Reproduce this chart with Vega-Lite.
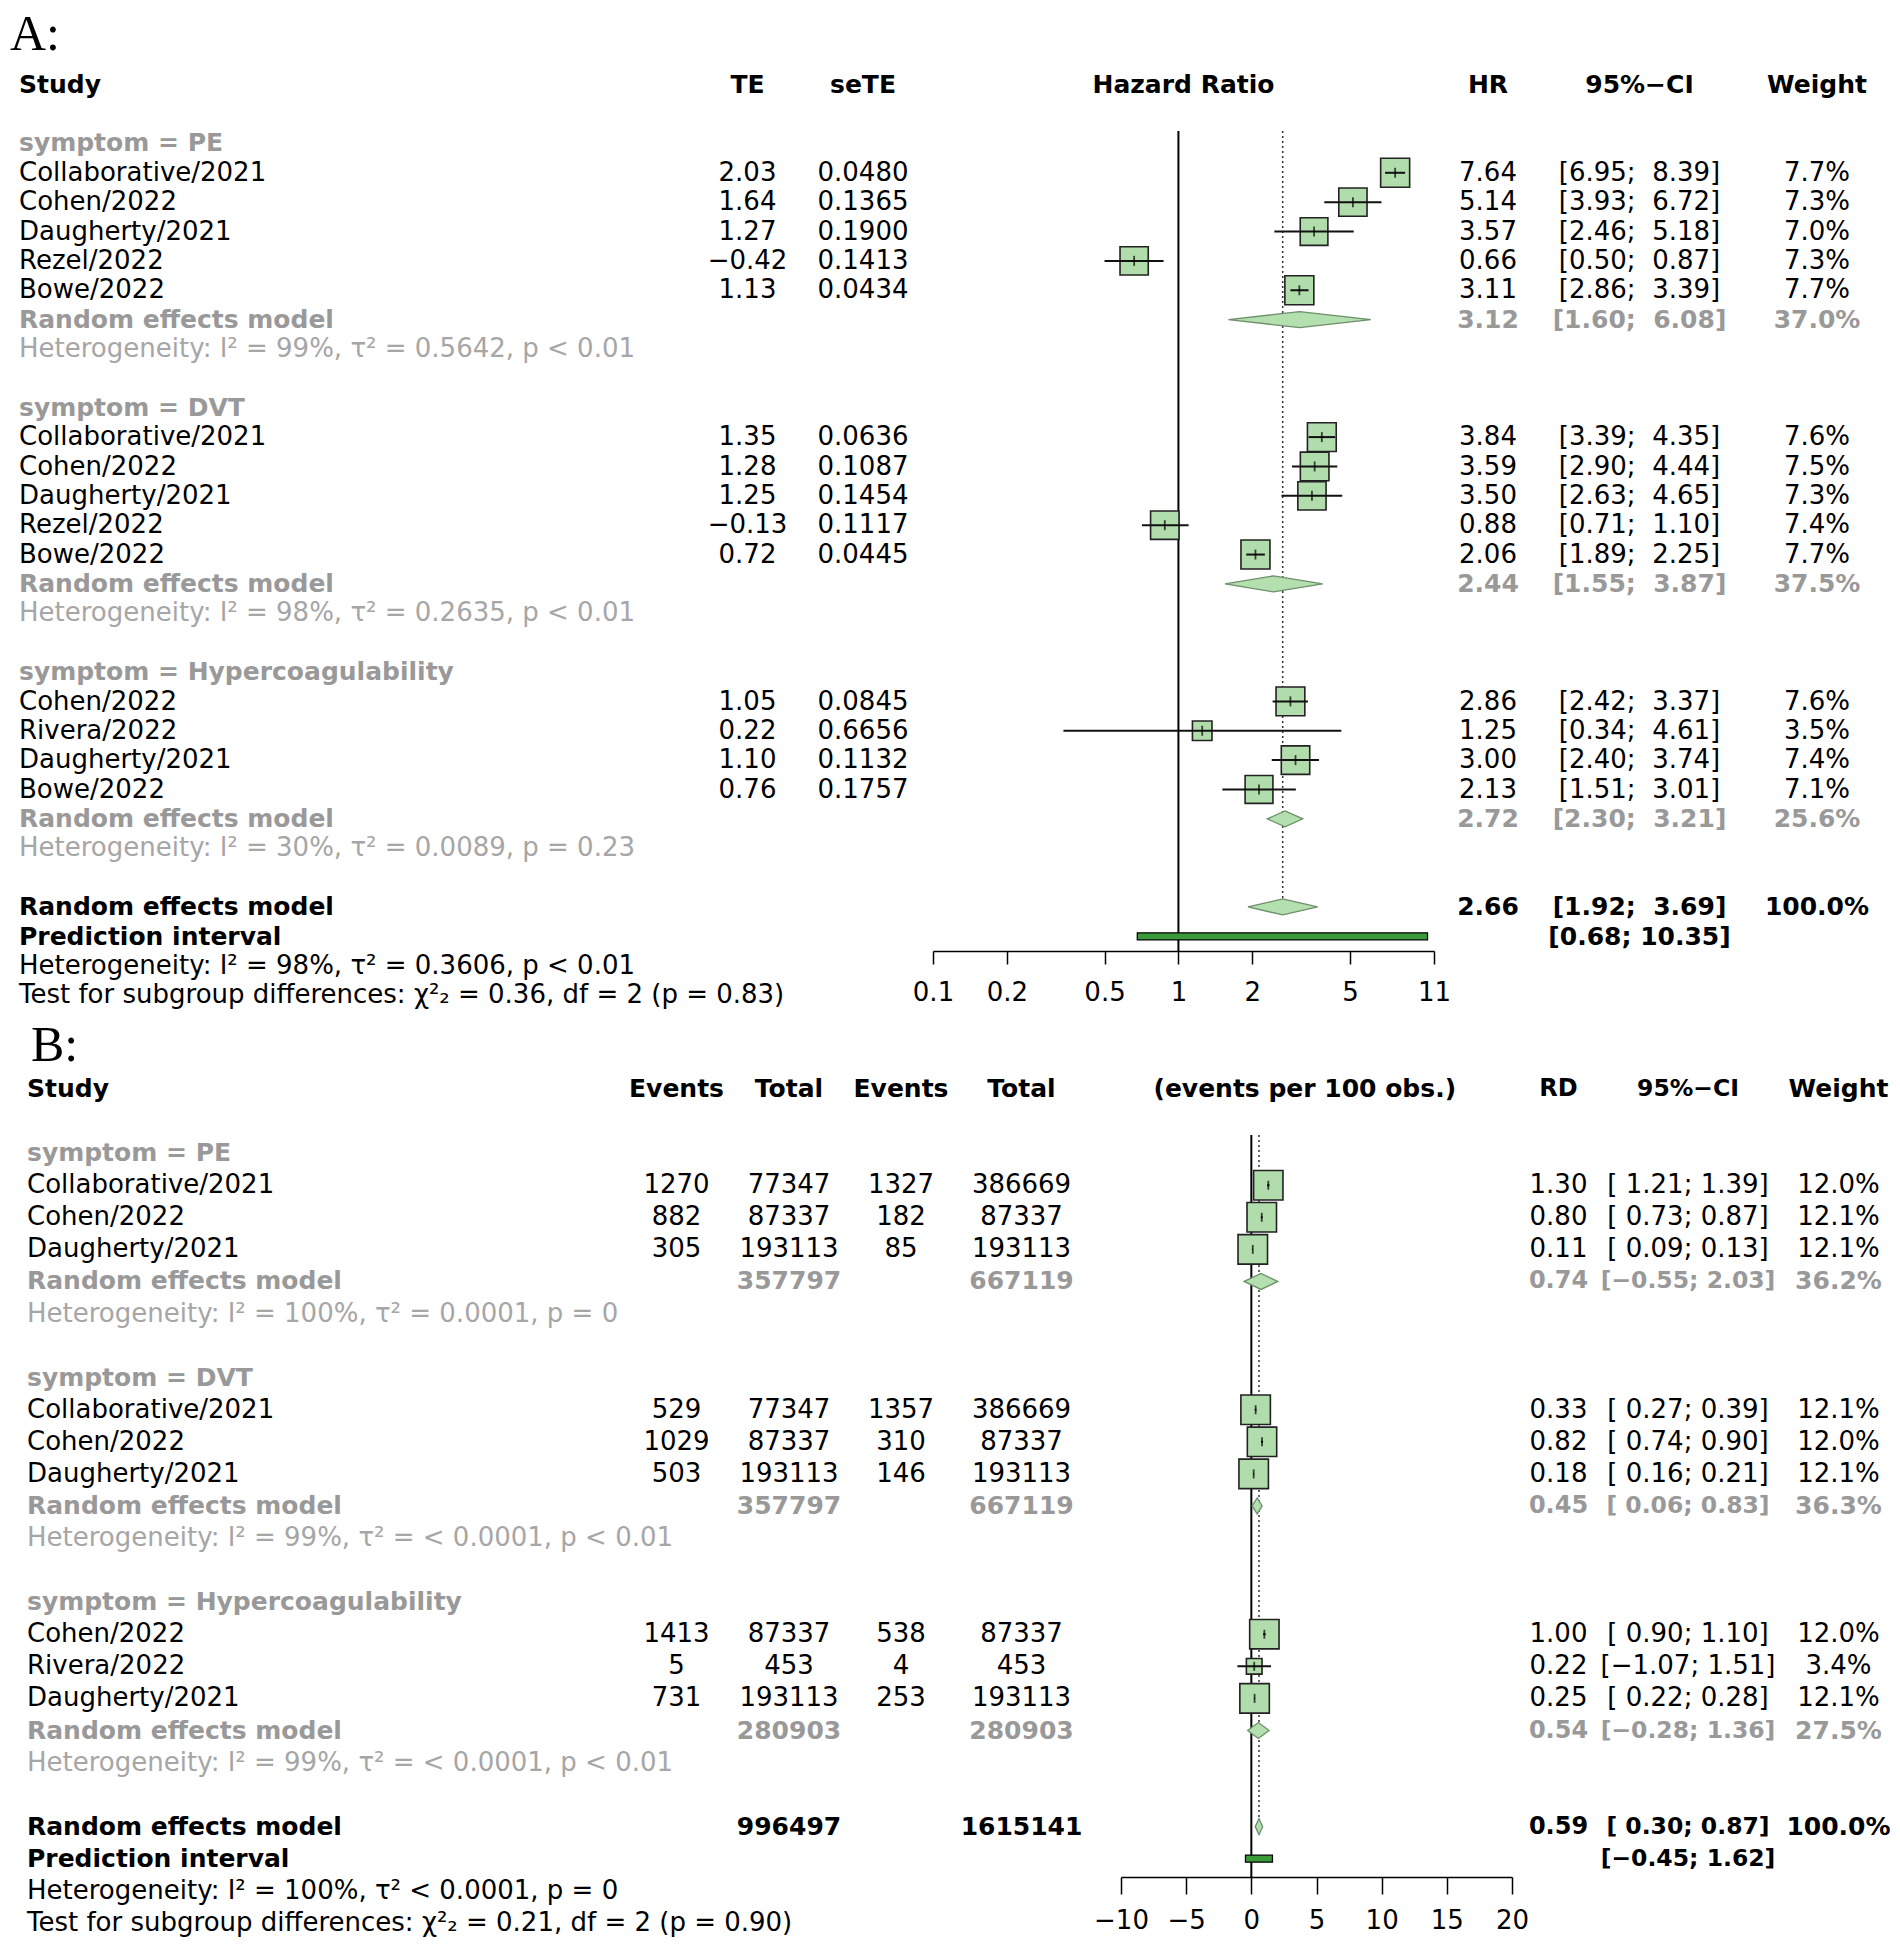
{
"$schema": "https://vega.github.io/schema/vega-lite/v6.json",
"background": "white",
"padding": {"left": 10, "top": 10, "right": 0, "bottom": 0},
"config": {"view": {"stroke": null}},
"datasets": {
"A": [
{"row":0,"kind":"header","study":"Study","te":"TE","sete":"seTE","fh":"Hazard Ratio","hr":"HR","ci":"95%−CI","w":"Weight"},
{"row":2,"kind":"label","study":"symptom = PE"},
{"row":3,"kind":"study","study":"Collaborative/2021","te":"2.03","sete":"0.0480","hr":"7.64","ci":"[6.95;\u00a0 8.39]","w":"7.7%","est":7.64,"lo":6.95,"hi":8.39,"wt":7.7},
{"row":4,"kind":"study","study":"Cohen/2022","te":"1.64","sete":"0.1365","hr":"5.14","ci":"[3.93;\u00a0 6.72]","w":"7.3%","est":5.14,"lo":3.93,"hi":6.72,"wt":7.3},
{"row":5,"kind":"study","study":"Daugherty/2021","te":"1.27","sete":"0.1900","hr":"3.57","ci":"[2.46;\u00a0 5.18]","w":"7.0%","est":3.57,"lo":2.46,"hi":5.18,"wt":7.0},
{"row":6,"kind":"study","study":"Rezel/2022","te":"−0.42","sete":"0.1413","hr":"0.66","ci":"[0.50;\u00a0 0.87]","w":"7.3%","est":0.66,"lo":0.50,"hi":0.87,"wt":7.3},
{"row":7,"kind":"study","study":"Bowe/2022","te":"1.13","sete":"0.0434","hr":"3.11","ci":"[2.86;\u00a0 3.39]","w":"7.7%","est":3.11,"lo":2.86,"hi":3.39,"wt":7.7},
{"row":8,"kind":"sub","study":"Random effects model","hr":"3.12","ci":"[1.60;\u00a0 6.08]","w":"37.0%","est":3.12,"lo":1.60,"hi":6.08},
{"row":9,"kind":"het","study":"Heterogeneity: I² = 99%, τ² = 0.5642, p < 0.01"},
{"row":11,"kind":"label","study":"symptom = DVT"},
{"row":12,"kind":"study","study":"Collaborative/2021","te":"1.35","sete":"0.0636","hr":"3.84","ci":"[3.39;\u00a0 4.35]","w":"7.6%","est":3.84,"lo":3.39,"hi":4.35,"wt":7.6},
{"row":13,"kind":"study","study":"Cohen/2022","te":"1.28","sete":"0.1087","hr":"3.59","ci":"[2.90;\u00a0 4.44]","w":"7.5%","est":3.59,"lo":2.90,"hi":4.44,"wt":7.5},
{"row":14,"kind":"study","study":"Daugherty/2021","te":"1.25","sete":"0.1454","hr":"3.50","ci":"[2.63;\u00a0 4.65]","w":"7.3%","est":3.50,"lo":2.63,"hi":4.65,"wt":7.3},
{"row":15,"kind":"study","study":"Rezel/2022","te":"−0.13","sete":"0.1117","hr":"0.88","ci":"[0.71;\u00a0 1.10]","w":"7.4%","est":0.88,"lo":0.71,"hi":1.10,"wt":7.4},
{"row":16,"kind":"study","study":"Bowe/2022","te":"0.72","sete":"0.0445","hr":"2.06","ci":"[1.89;\u00a0 2.25]","w":"7.7%","est":2.06,"lo":1.89,"hi":2.25,"wt":7.7},
{"row":17,"kind":"sub","study":"Random effects model","hr":"2.44","ci":"[1.55;\u00a0 3.87]","w":"37.5%","est":2.44,"lo":1.55,"hi":3.87},
{"row":18,"kind":"het","study":"Heterogeneity: I² = 98%, τ² = 0.2635, p < 0.01"},
{"row":20,"kind":"label","study":"symptom = Hypercoagulability"},
{"row":21,"kind":"study","study":"Cohen/2022","te":"1.05","sete":"0.0845","hr":"2.86","ci":"[2.42;\u00a0 3.37]","w":"7.6%","est":2.86,"lo":2.42,"hi":3.37,"wt":7.6},
{"row":22,"kind":"study","study":"Rivera/2022","te":"0.22","sete":"0.6656","hr":"1.25","ci":"[0.34;\u00a0 4.61]","w":"3.5%","est":1.25,"lo":0.34,"hi":4.61,"wt":3.5},
{"row":23,"kind":"study","study":"Daugherty/2021","te":"1.10","sete":"0.1132","hr":"3.00","ci":"[2.40;\u00a0 3.74]","w":"7.4%","est":3.00,"lo":2.40,"hi":3.74,"wt":7.4},
{"row":24,"kind":"study","study":"Bowe/2022","te":"0.76","sete":"0.1757","hr":"2.13","ci":"[1.51;\u00a0 3.01]","w":"7.1%","est":2.13,"lo":1.51,"hi":3.01,"wt":7.1},
{"row":25,"kind":"sub","study":"Random effects model","hr":"2.72","ci":"[2.30;\u00a0 3.21]","w":"25.6%","est":2.72,"lo":2.30,"hi":3.21},
{"row":26,"kind":"het","study":"Heterogeneity: I² = 30%, τ² = 0.0089, p = 0.23"},
{"row":28,"kind":"overall","study":"Random effects model","hr":"2.66","ci":"[1.92;\u00a0 3.69]","w":"100.0%","est":2.66,"lo":1.92,"hi":3.69},
{"row":29,"kind":"pi","study":"Prediction interval","ci":"[0.68; 10.35]","lo":0.68,"hi":10.35},
{"row":30,"kind":"ohet","study":"Heterogeneity: I² = 98%, τ² = 0.3606, p < 0.01"},
{"row":31,"kind":"test","study":"Test for subgroup differences: χ²₂ = 0.36, df = 2 (p = 0.83)"}
],
"B": [
{"row":0,"kind":"header","study":"Study","e1":"Events","t1":"Total","e2":"Events","t2":"Total","fh":"(events per 100 obs.)","rd":"RD","ci":"95%−CI","w":"Weight"},
{"row":2,"kind":"label","study":"symptom = PE"},
{"row":3,"kind":"study","study":"Collaborative/2021","e1":"1270","t1":"77347","e2":"1327","t2":"386669","rd":"1.30","ci":"[\u00a01.21; 1.39]","w":"12.0%","est":1.30,"lo":1.21,"hi":1.39,"wt":12.0},
{"row":4,"kind":"study","study":"Cohen/2022","e1":"882","t1":"87337","e2":"182","t2":"87337","rd":"0.80","ci":"[\u00a00.73; 0.87]","w":"12.1%","est":0.80,"lo":0.73,"hi":0.87,"wt":12.1},
{"row":5,"kind":"study","study":"Daugherty/2021","e1":"305","t1":"193113","e2":"85","t2":"193113","rd":"0.11","ci":"[\u00a00.09; 0.13]","w":"12.1%","est":0.11,"lo":0.09,"hi":0.13,"wt":12.1},
{"row":6,"kind":"sub","study":"Random effects model","t1":"357797","t2":"667119","rd":"0.74","ci":"[−0.55; 2.03]","w":"36.2%","est":0.74,"lo":-0.55,"hi":2.03},
{"row":7,"kind":"het","study":"Heterogeneity: I² = 100%, τ² = 0.0001, p = 0"},
{"row":9,"kind":"label","study":"symptom = DVT"},
{"row":10,"kind":"study","study":"Collaborative/2021","e1":"529","t1":"77347","e2":"1357","t2":"386669","rd":"0.33","ci":"[\u00a00.27; 0.39]","w":"12.1%","est":0.33,"lo":0.27,"hi":0.39,"wt":12.1},
{"row":11,"kind":"study","study":"Cohen/2022","e1":"1029","t1":"87337","e2":"310","t2":"87337","rd":"0.82","ci":"[\u00a00.74; 0.90]","w":"12.0%","est":0.82,"lo":0.74,"hi":0.90,"wt":12.0},
{"row":12,"kind":"study","study":"Daugherty/2021","e1":"503","t1":"193113","e2":"146","t2":"193113","rd":"0.18","ci":"[\u00a00.16; 0.21]","w":"12.1%","est":0.18,"lo":0.16,"hi":0.21,"wt":12.1},
{"row":13,"kind":"sub","study":"Random effects model","t1":"357797","t2":"667119","rd":"0.45","ci":"[\u00a00.06; 0.83]","w":"36.3%","est":0.45,"lo":0.06,"hi":0.83},
{"row":14,"kind":"het","study":"Heterogeneity: I² = 99%, τ² = < 0.0001, p < 0.01"},
{"row":16,"kind":"label","study":"symptom = Hypercoagulability"},
{"row":17,"kind":"study","study":"Cohen/2022","e1":"1413","t1":"87337","e2":"538","t2":"87337","rd":"1.00","ci":"[\u00a00.90; 1.10]","w":"12.0%","est":1.00,"lo":0.90,"hi":1.10,"wt":12.0},
{"row":18,"kind":"study","study":"Rivera/2022","e1":"5","t1":"453","e2":"4","t2":"453","rd":"0.22","ci":"[−1.07; 1.51]","w":"3.4%","est":0.22,"lo":-1.07,"hi":1.51,"wt":3.4},
{"row":19,"kind":"study","study":"Daugherty/2021","e1":"731","t1":"193113","e2":"253","t2":"193113","rd":"0.25","ci":"[\u00a00.22; 0.28]","w":"12.1%","est":0.25,"lo":0.22,"hi":0.28,"wt":12.1},
{"row":20,"kind":"sub","study":"Random effects model","t1":"280903","t2":"280903","rd":"0.54","ci":"[−0.28; 1.36]","w":"27.5%","est":0.54,"lo":-0.28,"hi":1.36},
{"row":21,"kind":"het","study":"Heterogeneity: I² = 99%, τ² = < 0.0001, p < 0.01"},
{"row":23,"kind":"overall","study":"Random effects model","t1":"996497","t2":"1615141","rd":"0.59","ci":"[\u00a00.30; 0.87]","w":"100.0%","est":0.59,"lo":0.30,"hi":0.87},
{"row":24,"kind":"pi","study":"Prediction interval","ci":"[−0.45; 1.62]","lo":-0.45,"hi":1.62},
{"row":25,"kind":"ohet","study":"Heterogeneity: I² = 100%, τ² < 0.0001, p = 0"},
{"row":26,"kind":"test","study":"Test for subgroup differences: χ²₂ = 0.21, df = 2 (p = 0.90)"}
]
},
"spacing": 11,
"vconcat": [
{
"title": {"text": "A:", "anchor": "start", "font": "Liberation Serif", "fontSize": 50, "fontWeight": "normal", "color": "black", "offset": 10},
"spacing": 0,
"bounds": "flush",
"resolve": {"scale": {"x": "independent", "y": "independent", "size": "independent"}},
"hconcat": [
{"width": 692, "height": 940, "data": {"name": "A"}, "transform": [{"filter": "isValid(datum.study)"}],
 "encoding": {"y": {"field":"row","type":"quantitative","scale":{"domain":[-0.5,31.5],"reverse":true,"nice":false,"zero":false},"axis":null},
  "x": {"value": 0}, "text": {"field": "study"},
  "color": {"field":"kind","type":"nominal","scale":{"domain":["header","label","study","sub","het","overall","pi","ohet","test"],"range":["#000000","#999999","#000000","#999999","#a6a6a6","#000000","#000000","#000000","#000000"]},"legend":null}},
 "layer": [
  {"transform": [{"filter": {"field":"kind","oneOf":["header","label","sub","overall","pi"]}}], "mark": {"type":"text","font":"DejaVu Sans","fontSize":25,"fontWeight":"bold","align":"left","baseline":"middle","dx":9}},
  {"transform": [{"filter": {"field":"kind","oneOf":["study","het","ohet","test"]}}], "mark": {"type":"text","font":"DejaVu Sans","fontSize":26,"align":"left","baseline":"middle","dx":9}}
 ]},
{"width": 91, "height": 940, "data": {"name": "A"}, "transform": [{"filter": "isValid(datum.te)"}],
 "encoding": {"y": {"field":"row","type":"quantitative","scale":{"domain":[-0.5,31.5],"reverse":true,"nice":false,"zero":false},"axis":null},
  "x": {"datum": "c", "type": "nominal", "scale": {"type": "point", "padding": 0.5}, "axis": null}, "text": {"field": "te"},
  "color": {"field":"kind","type":"nominal","scale":{"domain":["header","label","study","sub","het","overall","pi","ohet","test"],"range":["#000000","#999999","#000000","#999999","#a6a6a6","#000000","#000000","#000000","#000000"]},"legend":null}},
 "layer": [
  {"transform": [{"filter": {"field":"kind","oneOf":["header","label","sub","overall","pi"]}}], "mark": {"type":"text","font":"DejaVu Sans","fontSize":25,"fontWeight":"bold","align":"center","baseline":"middle"}},
  {"transform": [{"filter": {"field":"kind","oneOf":["study","het","ohet","test"]}}], "mark": {"type":"text","font":"DejaVu Sans","fontSize":26,"align":"center","baseline":"middle"}}
 ]},
{"width": 140, "height": 940, "data": {"name": "A"}, "transform": [{"filter": "isValid(datum.sete)"}],
 "encoding": {"y": {"field":"row","type":"quantitative","scale":{"domain":[-0.5,31.5],"reverse":true,"nice":false,"zero":false},"axis":null},
  "x": {"datum": "c", "type": "nominal", "scale": {"type": "point", "padding": 0.5}, "axis": null}, "text": {"field": "sete"},
  "color": {"field":"kind","type":"nominal","scale":{"domain":["header","label","study","sub","het","overall","pi","ohet","test"],"range":["#000000","#999999","#000000","#999999","#a6a6a6","#000000","#000000","#000000","#000000"]},"legend":null}},
 "layer": [
  {"transform": [{"filter": {"field":"kind","oneOf":["header","label","sub","overall","pi"]}}], "mark": {"type":"text","font":"DejaVu Sans","fontSize":25,"fontWeight":"bold","align":"center","baseline":"middle"}},
  {"transform": [{"filter": {"field":"kind","oneOf":["study","het","ohet","test"]}}], "mark": {"type":"text","font":"DejaVu Sans","fontSize":26,"align":"center","baseline":"middle"}}
 ]},
{"width": 501, "height": 881, "data": {"name": "A"},
 "encoding": {"y": {"field":"row","type":"quantitative","scale":{"domain":[-0.5,29.5],"reverse":true,"nice":false,"zero":false,"padding":0},"axis":null}},
 "layer": [
  {"transform": [{"filter": "datum.kind == 'header'"}], "mark": {"type":"rule","stroke":"black","strokeWidth":2},
   "encoding": {"x": {"datum": 1, "type":"quantitative", "scale": {"type":"log","domain":[0.1,11],"nice":false,"padding":0},
     "axis": {"values":[0.1,0.2,0.5,1,2,5,11],"format":"~g","title":null,"grid":false,"domainColor":"black","domainWidth":1.5,"tickColor":"black","tickWidth":1.5,"tickSize":13,"labelFont":"DejaVu Sans","labelFontSize":26,"labelColor":"black","labelPadding":15,"labelFlush":false,"labelOverlap":false}},
    "y": {"datum": 1.58}, "y2": {"datum": 29.5}}},
  {"transform": [{"filter": "datum.kind == 'overall'"}], "mark": {"type":"rule","stroke":"#333333","strokeWidth":1.5,"strokeDash":[2,3]},
   "encoding": {"x": {"field":"est","type":"quantitative"}, "y": {"datum": 1.58}, "y2": {"datum": 27.72}}},
  {"transform": [{"filter": {"field":"kind","oneOf":["sub","overall"]}}, {"fold": ["lo","est","hi"]}],
   "mark": {"type":"area","orient":"vertical","fill":"#b4dfae","stroke":"#6d8f6b","strokeWidth":1.3,"opacity":1,
    "yOffset": {"expr": "datum.key == 'est' ? -8 : 0"}, "y2Offset": {"expr": "datum.key == 'est' ? 8 : 0"}},
   "encoding": {"x": {"field":"value","type":"quantitative"}, "y2": {"field":"row"}, "detail": {"field":"row","type":"nominal"}}},
  {"transform": [{"filter": "datum.kind == 'pi'"}], "mark": {"type":"bar","size":7,"fill":"#3a9a3a","stroke":"black","strokeWidth":1.3},
   "encoding": {"x": {"field":"lo","type":"quantitative"}, "x2": {"field":"hi"}}},
  {"transform": [{"filter": "datum.kind == 'study'"}], "mark": {"type":"point","shape":"square","filled":true,"fill":"#b1dcab","stroke":"#222222","strokeWidth":1.6,"opacity":1},
   "encoding": {"x": {"field":"est","type":"quantitative"}, "size": {"field":"wt","type":"quantitative","scale":{"domain":[0,7.7],"range":[0,841]},"legend":null}}},
  {"transform": [{"filter": "datum.kind == 'study'"}], "mark": {"type":"rule","stroke":"#111111","strokeWidth":2},
   "encoding": {"x": {"field":"lo","type":"quantitative"}, "x2": {"field":"hi"}}},
  {"transform": [{"filter": "datum.kind == 'study'"}], "mark": {"type":"tick","orient":"vertical","size":10,"thickness":1.8,"color":"black"},
   "encoding": {"x": {"field":"est","type":"quantitative"}}},
  {"transform": [{"filter": "isValid(datum.fh)"}], "mark": {"type":"text","font":"DejaVu Sans","fontSize":25,"fontWeight":"bold","align":"center","baseline":"middle","color":"black"},
   "encoding": {"x": {"datum": 1.0488, "type": "quantitative"}, "text": {"field":"fh"}}}
 ]},
{"width": 108, "height": 940, "data": {"name": "A"}, "transform": [{"filter": "isValid(datum.hr)"}],
 "encoding": {"y": {"field":"row","type":"quantitative","scale":{"domain":[-0.5,31.5],"reverse":true,"nice":false,"zero":false},"axis":null},
  "x": {"datum": "c", "type": "nominal", "scale": {"type": "point", "padding": 0.5}, "axis": null}, "text": {"field": "hr"},
  "color": {"field":"kind","type":"nominal","scale":{"domain":["header","label","study","sub","het","overall","pi","ohet","test"],"range":["#000000","#999999","#000000","#999999","#a6a6a6","#000000","#000000","#000000","#000000"]},"legend":null}},
 "layer": [
  {"transform": [{"filter": {"field":"kind","oneOf":["header","label","sub","overall","pi"]}}], "mark": {"type":"text","font":"DejaVu Sans","fontSize":25,"fontWeight":"bold","align":"center","baseline":"middle"}},
  {"transform": [{"filter": {"field":"kind","oneOf":["study","het","ohet","test"]}}], "mark": {"type":"text","font":"DejaVu Sans","fontSize":26,"align":"center","baseline":"middle"}}
 ]},
{"width": 195, "height": 940, "data": {"name": "A"}, "transform": [{"filter": "isValid(datum.ci)"}],
 "encoding": {"y": {"field":"row","type":"quantitative","scale":{"domain":[-0.5,31.5],"reverse":true,"nice":false,"zero":false},"axis":null},
  "x": {"datum": "c", "type": "nominal", "scale": {"type": "point", "padding": 0.5}, "axis": null}, "text": {"field": "ci"},
  "color": {"field":"kind","type":"nominal","scale":{"domain":["header","label","study","sub","het","overall","pi","ohet","test"],"range":["#000000","#999999","#000000","#999999","#a6a6a6","#000000","#000000","#000000","#000000"]},"legend":null}},
 "layer": [
  {"transform": [{"filter": {"field":"kind","oneOf":["header","label","sub","overall","pi"]}}], "mark": {"type":"text","font":"DejaVu Sans","fontSize":25,"fontWeight":"bold","align":"center","baseline":"middle"}},
  {"transform": [{"filter": {"field":"kind","oneOf":["study","het","ohet","test"]}}], "mark": {"type":"text","font":"DejaVu Sans","fontSize":26,"align":"center","baseline":"middle"}}
 ]},
{"width": 160, "height": 940, "data": {"name": "A"}, "transform": [{"filter": "isValid(datum.w)"}],
 "encoding": {"y": {"field":"row","type":"quantitative","scale":{"domain":[-0.5,31.5],"reverse":true,"nice":false,"zero":false},"axis":null},
  "x": {"datum": "c", "type": "nominal", "scale": {"type": "point", "padding": 0.5}, "axis": null}, "text": {"field": "w"},
  "color": {"field":"kind","type":"nominal","scale":{"domain":["header","label","study","sub","het","overall","pi","ohet","test"],"range":["#000000","#999999","#000000","#999999","#a6a6a6","#000000","#000000","#000000","#000000"]},"legend":null}},
 "layer": [
  {"transform": [{"filter": {"field":"kind","oneOf":["header","label","sub","overall","pi"]}}], "mark": {"type":"text","font":"DejaVu Sans","fontSize":25,"fontWeight":"bold","align":"center","baseline":"middle"}},
  {"transform": [{"filter": {"field":"kind","oneOf":["study","het","ohet","test"]}}], "mark": {"type":"text","font":"DejaVu Sans","fontSize":26,"align":"center","baseline":"middle"}}
 ]}
]
},
{
"title": {"text": "B:", "anchor": "start", "font": "Liberation Serif", "fontSize": 50, "fontWeight": "normal", "color": "black", "offset": 2, "dx": 21},
"spacing": 0,
"bounds": "flush",
"resolve": {"scale": {"x": "independent", "y": "independent", "size": "independent"}},
"hconcat": [
{"width": 645, "height": 866, "data": {"name": "B"}, "transform": [{"filter": "isValid(datum.study)"}],
 "encoding": {"y": {"field":"row","type":"quantitative","scale":{"domain":[-0.5,26.5],"reverse":true,"nice":false,"zero":false},"axis":null},
  "x": {"value": 0}, "text": {"field": "study"},
  "color": {"field":"kind","type":"nominal","scale":{"domain":["header","label","study","sub","het","overall","pi","ohet","test"],"range":["#000000","#999999","#000000","#999999","#a6a6a6","#000000","#000000","#000000","#000000"]},"legend":null}},
 "layer": [
  {"transform": [{"filter": {"field":"kind","oneOf":["header","label","sub","overall","pi"]}}], "mark": {"type":"text","font":"DejaVu Sans","fontSize":25,"fontWeight":"bold","align":"left","baseline":"middle","dx":17}},
  {"transform": [{"filter": {"field":"kind","oneOf":["study","het","ohet","test"]}}], "mark": {"type":"text","font":"DejaVu Sans","fontSize":26,"align":"left","baseline":"middle","dx":17}}
 ]},
{"width": 43, "height": 866, "data": {"name": "B"}, "transform": [{"filter": "isValid(datum.e1)"}],
 "encoding": {"y": {"field":"row","type":"quantitative","scale":{"domain":[-0.5,26.5],"reverse":true,"nice":false,"zero":false},"axis":null},
  "x": {"datum": "c", "type": "nominal", "scale": {"type": "point", "padding": 0.5}, "axis": null}, "text": {"field": "e1"},
  "color": {"field":"kind","type":"nominal","scale":{"domain":["header","label","study","sub","het","overall","pi","ohet","test"],"range":["#000000","#999999","#000000","#999999","#a6a6a6","#000000","#000000","#000000","#000000"]},"legend":null}},
 "layer": [
  {"transform": [{"filter": {"field":"kind","oneOf":["header","label","sub","overall","pi"]}}], "mark": {"type":"text","font":"DejaVu Sans","fontSize":25,"fontWeight":"bold","align":"center","baseline":"middle"}},
  {"transform": [{"filter": {"field":"kind","oneOf":["study","het","ohet","test"]}}], "mark": {"type":"text","font":"DejaVu Sans","fontSize":26,"align":"center","baseline":"middle"}}
 ]},
{"width": 182, "height": 866, "data": {"name": "B"}, "transform": [{"filter": "isValid(datum.t1)"}],
 "encoding": {"y": {"field":"row","type":"quantitative","scale":{"domain":[-0.5,26.5],"reverse":true,"nice":false,"zero":false},"axis":null},
  "x": {"datum": "c", "type": "nominal", "scale": {"type": "point", "padding": 0.5}, "axis": null}, "text": {"field": "t1"},
  "color": {"field":"kind","type":"nominal","scale":{"domain":["header","label","study","sub","het","overall","pi","ohet","test"],"range":["#000000","#999999","#000000","#999999","#a6a6a6","#000000","#000000","#000000","#000000"]},"legend":null}},
 "layer": [
  {"transform": [{"filter": {"field":"kind","oneOf":["header","label","sub","overall","pi"]}}], "mark": {"type":"text","font":"DejaVu Sans","fontSize":25,"fontWeight":"bold","align":"center","baseline":"middle"}},
  {"transform": [{"filter": {"field":"kind","oneOf":["study","het","ohet","test"]}}], "mark": {"type":"text","font":"DejaVu Sans","fontSize":26,"align":"center","baseline":"middle"}}
 ]},
{"width": 42, "height": 866, "data": {"name": "B"}, "transform": [{"filter": "isValid(datum.e2)"}],
 "encoding": {"y": {"field":"row","type":"quantitative","scale":{"domain":[-0.5,26.5],"reverse":true,"nice":false,"zero":false},"axis":null},
  "x": {"datum": "c", "type": "nominal", "scale": {"type": "point", "padding": 0.5}, "axis": null}, "text": {"field": "e2"},
  "color": {"field":"kind","type":"nominal","scale":{"domain":["header","label","study","sub","het","overall","pi","ohet","test"],"range":["#000000","#999999","#000000","#999999","#a6a6a6","#000000","#000000","#000000","#000000"]},"legend":null}},
 "layer": [
  {"transform": [{"filter": {"field":"kind","oneOf":["header","label","sub","overall","pi"]}}], "mark": {"type":"text","font":"DejaVu Sans","fontSize":25,"fontWeight":"bold","align":"center","baseline":"middle"}},
  {"transform": [{"filter": {"field":"kind","oneOf":["study","het","ohet","test"]}}], "mark": {"type":"text","font":"DejaVu Sans","fontSize":26,"align":"center","baseline":"middle"}}
 ]},
{"width": 199, "height": 866, "data": {"name": "B"}, "transform": [{"filter": "isValid(datum.t2)"}],
 "encoding": {"y": {"field":"row","type":"quantitative","scale":{"domain":[-0.5,26.5],"reverse":true,"nice":false,"zero":false},"axis":null},
  "x": {"datum": "c", "type": "nominal", "scale": {"type": "point", "padding": 0.5}, "axis": null}, "text": {"field": "t2"},
  "color": {"field":"kind","type":"nominal","scale":{"domain":["header","label","study","sub","het","overall","pi","ohet","test"],"range":["#000000","#999999","#000000","#999999","#a6a6a6","#000000","#000000","#000000","#000000"]},"legend":null}},
 "layer": [
  {"transform": [{"filter": {"field":"kind","oneOf":["header","label","sub","overall","pi"]}}], "mark": {"type":"text","font":"DejaVu Sans","fontSize":25,"fontWeight":"bold","align":"center","baseline":"middle"}},
  {"transform": [{"filter": {"field":"kind","oneOf":["study","het","ohet","test"]}}], "mark": {"type":"text","font":"DejaVu Sans","fontSize":26,"align":"center","baseline":"middle"}}
 ]},
{"width": 391, "height": 804, "data": {"name": "B"},
 "encoding": {"y": {"field":"row","type":"quantitative","scale":{"domain":[-0.5,24.57],"reverse":true,"nice":false,"zero":false,"padding":0},"axis":null}},
 "layer": [
  {"transform": [{"filter": "datum.kind == 'header'"}], "mark": {"type":"rule","stroke":"black","strokeWidth":2},
   "encoding": {"x": {"datum": 0, "type":"quantitative", "scale": {"domain":[-10,20],"nice":false,"zero":false,"padding":0},
     "axis": {"values":[-10,-5,0,5,10,15,20],"title":null,"grid":false,"domainColor":"black","domainWidth":1.5,"tickColor":"black","tickWidth":1.5,"tickSize":17,"labelFont":"DejaVu Sans","labelFontSize":26,"labelColor":"black","labelPadding":13,"labelFlush":false,"labelOverlap":false}},
    "y": {"datum": 1.43}, "y2": {"datum": 24.57}}},
  {"transform": [{"filter": "datum.kind == 'overall'"}], "mark": {"type":"rule","stroke":"#333333","strokeWidth":1.5,"strokeDash":[2,3]},
   "encoding": {"x": {"field":"est","type":"quantitative"}, "y": {"datum": 1.43}, "y2": {"datum": 22.75}}},
  {"transform": [{"filter": {"field":"kind","oneOf":["sub","overall"]}}, {"fold": ["lo","est","hi"]}],
   "mark": {"type":"area","orient":"vertical","fill":"#b4dfae","stroke":"#6d8f6b","strokeWidth":1.3,"opacity":1,
    "yOffset": {"expr": "datum.key == 'est' ? -8 : 0"}, "y2Offset": {"expr": "datum.key == 'est' ? 8 : 0"}},
   "encoding": {"x": {"field":"value","type":"quantitative"}, "y2": {"field":"row"}, "detail": {"field":"row","type":"nominal"}}},
  {"transform": [{"filter": "datum.kind == 'pi'"}], "mark": {"type":"bar","size":7,"fill":"#3a9a3a","stroke":"black","strokeWidth":1.3},
   "encoding": {"x": {"field":"lo","type":"quantitative"}, "x2": {"field":"hi"}}},
  {"transform": [{"filter": "datum.kind == 'study'"}], "mark": {"type":"point","shape":"square","filled":true,"fill":"#b1dcab","stroke":"#222222","strokeWidth":1.6,"opacity":1},
   "encoding": {"x": {"field":"est","type":"quantitative"}, "size": {"field":"wt","type":"quantitative","scale":{"domain":[0,12.1],"range":[0,870]},"legend":null}}},
  {"transform": [{"filter": "datum.kind == 'study'"}], "mark": {"type":"rule","stroke":"#111111","strokeWidth":2},
   "encoding": {"x": {"field":"lo","type":"quantitative"}, "x2": {"field":"hi"}}},
  {"transform": [{"filter": "datum.kind == 'study'"}], "mark": {"type":"tick","orient":"vertical","size":9,"thickness":1.8,"color":"black"},
   "encoding": {"x": {"field":"est","type":"quantitative"}}},
  {"transform": [{"filter": "isValid(datum.fh)"}], "mark": {"type":"text","font":"DejaVu Sans","fontSize":25,"fontWeight":"bold","align":"center","baseline":"middle","color":"black"},
   "encoding": {"x": {"datum": 4.1, "type": "quantitative"}, "text": {"field":"fh"}}}
 ]},
{"width": 93, "height": 866, "data": {"name": "B"}, "transform": [{"filter": "isValid(datum.rd)"}],
 "encoding": {"y": {"field":"row","type":"quantitative","scale":{"domain":[-0.5,26.5],"reverse":true,"nice":false,"zero":false},"axis":null},
  "x": {"datum": "c", "type": "nominal", "scale": {"type": "point", "padding": 0.5}, "axis": null}, "text": {"field": "rd"},
  "color": {"field":"kind","type":"nominal","scale":{"domain":["header","label","study","sub","het","overall","pi","ohet","test"],"range":["#000000","#999999","#000000","#999999","#a6a6a6","#000000","#000000","#000000","#000000"]},"legend":null}},
 "layer": [
  {"transform": [{"filter": {"field":"kind","oneOf":["header","label","sub","overall","pi"]}}], "mark": {"type":"text","font":"DejaVu Sans","fontSize":24,"fontWeight":"bold","align":"center","baseline":"middle"}},
  {"transform": [{"filter": {"field":"kind","oneOf":["study","het","ohet","test"]}}], "mark": {"type":"text","font":"DejaVu Sans","fontSize":26,"align":"center","baseline":"middle"}}
 ]},
{"width": 166, "height": 866, "data": {"name": "B"}, "transform": [{"filter": "isValid(datum.ci)"}],
 "encoding": {"y": {"field":"row","type":"quantitative","scale":{"domain":[-0.5,26.5],"reverse":true,"nice":false,"zero":false},"axis":null},
  "x": {"datum": "c", "type": "nominal", "scale": {"type": "point", "padding": 0.5}, "axis": null}, "text": {"field": "ci"},
  "color": {"field":"kind","type":"nominal","scale":{"domain":["header","label","study","sub","het","overall","pi","ohet","test"],"range":["#000000","#999999","#000000","#999999","#a6a6a6","#000000","#000000","#000000","#000000"]},"legend":null}},
 "layer": [
  {"transform": [{"filter": {"field":"kind","oneOf":["header","label","sub","overall","pi"]}}], "mark": {"type":"text","font":"DejaVu Sans","fontSize":23.5,"fontWeight":"bold","align":"center","baseline":"middle"}},
  {"transform": [{"filter": {"field":"kind","oneOf":["study","het","ohet","test"]}}], "mark": {"type":"text","font":"DejaVu Sans","fontSize":26,"align":"center","baseline":"middle"}}
 ]},
{"width": 128, "height": 866, "data": {"name": "B"}, "transform": [{"filter": "isValid(datum.w)"}],
 "encoding": {"y": {"field":"row","type":"quantitative","scale":{"domain":[-0.5,26.5],"reverse":true,"nice":false,"zero":false},"axis":null},
  "x": {"datum": "c", "type": "nominal", "scale": {"type": "point", "padding": 0.5, "align": 0.527}, "axis": null}, "text": {"field": "w"},
  "color": {"field":"kind","type":"nominal","scale":{"domain":["header","label","study","sub","het","overall","pi","ohet","test"],"range":["#000000","#999999","#000000","#999999","#a6a6a6","#000000","#000000","#000000","#000000"]},"legend":null}},
 "layer": [
  {"transform": [{"filter": {"field":"kind","oneOf":["header","label","sub","overall","pi"]}}], "mark": {"type":"text","font":"DejaVu Sans","fontSize":25,"fontWeight":"bold","align":"center","baseline":"middle"}},
  {"transform": [{"filter": {"field":"kind","oneOf":["study","het","ohet","test"]}}], "mark": {"type":"text","font":"DejaVu Sans","fontSize":26,"align":"center","baseline":"middle"}}
 ]}
]
}
]
}
